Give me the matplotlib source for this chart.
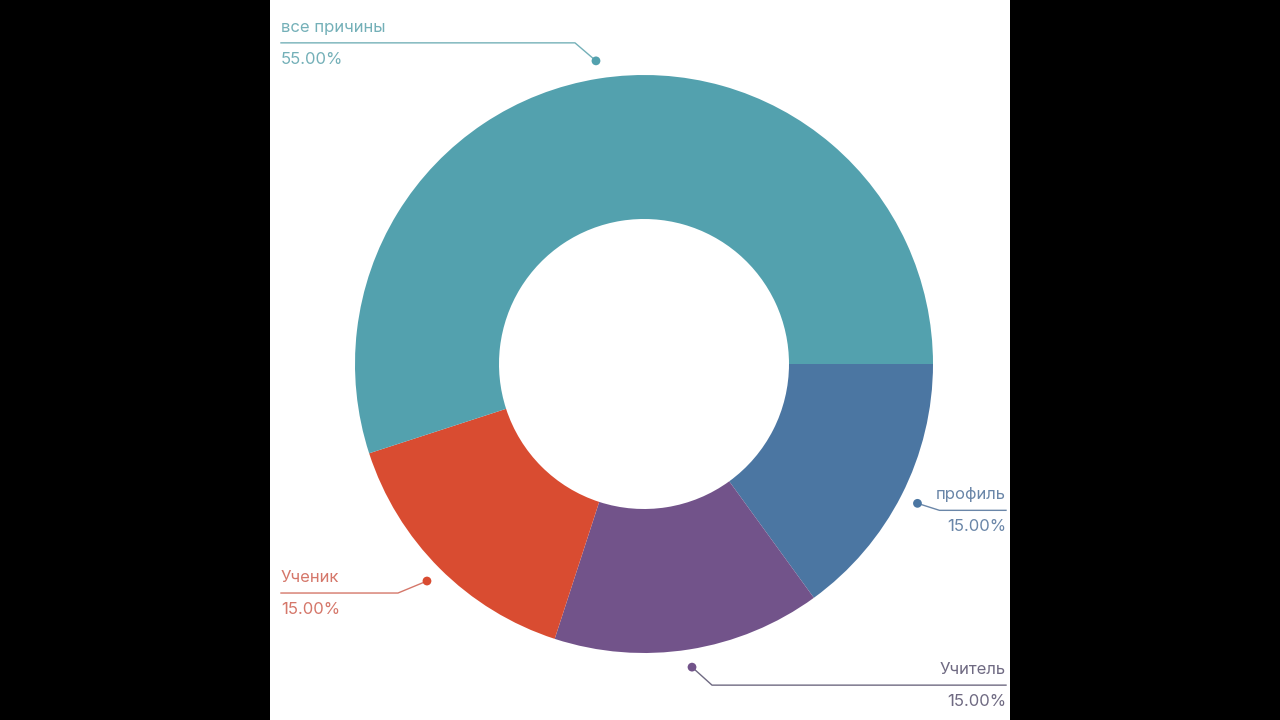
"""Donut chart: причины (reasons) share, with leader-line labels."""

import numpy as np
import matplotlib

matplotlib.use("Agg")
import matplotlib.pyplot as plt
from matplotlib.patches import Rectangle

labels = ["профиль", "Учитель", "Ученик", "все причины"]
shares = [15.0, 15.0, 15.0, 55.0]
colors = ["#4b76a2", "#72538a", "#d94c31", "#53a1ae"]
text_colors = ["#6a86a8", "#6f6a82", "#d5776a", "#74b0b8"]

# leader layout (pixels): which side the label sits on, elbow dx / dy from the dot
label_side = ["right", "right", "left", "left"]
elbow_dx = [22, 20, -29, -21]
elbow_dy = [-7, -18, -12, 18]

W, H = 1280, 720
CX, CY = 644, 356
R_OUT, R_IN = 289, 145

fig = plt.figure(figsize=(W / 100, H / 100), dpi=100, facecolor="black")
ax = fig.add_axes([270 / W, 0, 740 / W, 1])
ax.add_patch(Rectangle((270, 0), 740, H, facecolor="white", edgecolor="none", zorder=0))

wedges, _ = ax.pie(
    shares,
    colors=colors,
    startangle=0,
    counterclock=False,
    center=(CX, CY),
    radius=R_OUT,
    wedgeprops=dict(width=R_OUT - R_IN, edgecolor="none"),
    frame=True,
)
ax.set_xlim(270, 1010)
ax.set_ylim(0, H)
ax.set_aspect("equal")
ax.axis("off")

font = ["Inter", "DejaVu Sans"]
for i, wedge in enumerate(wedges):
    mid = np.deg2rad((wedge.theta1 + wedge.theta2) / 2)
    r_dot = R_OUT * 1.062
    px, py = CX + r_dot * np.cos(mid), CY + r_dot * np.sin(mid)
    ex, ey = px + elbow_dx[i], py + elbow_dy[i]
    if label_side[i] == "right":
        end_x, ha = 1006, "right"
    else:
        end_x, ha = 281, "left"
    tcol = text_colors[i]
    ax.plot([px, ex, end_x], [py, ey, ey], color=tcol, lw=1.0, zorder=3)
    ax.scatter([px], [py], s=40, color=colors[i], zorder=4, edgecolor="none")
    ax.text(end_x, ey + 8, labels[i], ha=ha, va="bottom", fontsize=12, color=tcol, family=font)
    ax.text(end_x, ey - 9, f"{shares[i]:.2f}%", ha=ha, va="top", fontsize=12, color=tcol, family=font)

fig.savefig("out.png", dpi=100, facecolor="black")
